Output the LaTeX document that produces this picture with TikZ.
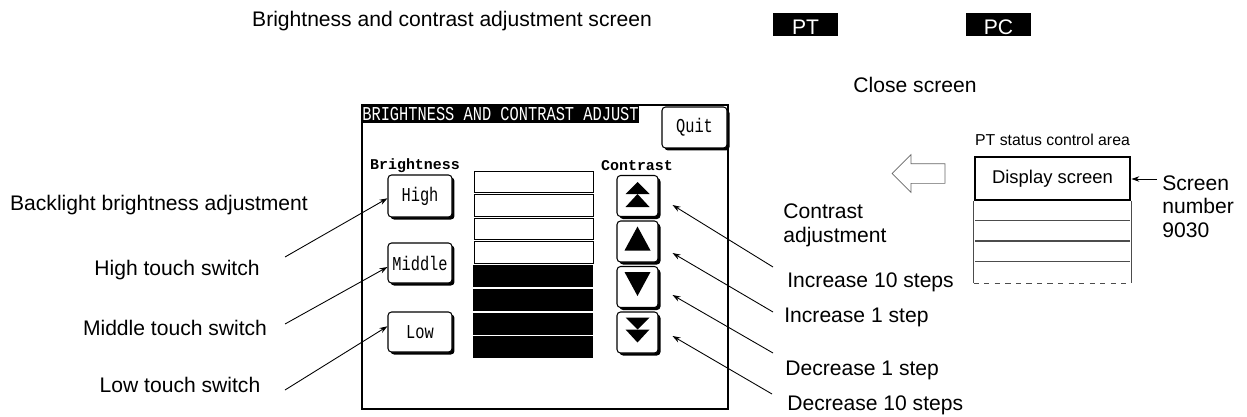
\documentclass[tikz,border=0pt]{standalone}
\usepackage{fontspec}
\usepackage{graphicx}
\setmainfont{Liberation Sans}
\newfontfamily\lcdfont{Liberation Mono}
\usetikzlibrary{arrows.meta, positioning, shapes.arrows, shadows}
\newcommand{\lcd}[1]{\scalebox{0.78}[1]{\lcdfont\fontsize{11.2}{12}\selectfont #1}}
\tikzstyle{note} = [font=\fontsize{12}{14}\selectfont, inner sep=0pt]
\tikzstyle{tag} = [fill=black, text=white, minimum width=1.3cm, minimum height=0.48cm, inner sep=0pt, text height=0.42cm, text depth=0pt, font=\fontsize{12}{14}\selectfont]
\tikzstyle{tsw} = [draw, fill=white, rounded corners=2pt, line width=0.6pt, inner sep=0pt, drop shadow={shadow xshift=0.05cm, shadow yshift=-0.05cm, opacity=1, fill=black}]
\tikzstyle{hdr} = [font=\lcdfont\bfseries\fontsize{8.5}{10}\selectfont, inner sep=0pt]
\tikzstyle{rowline} = [black!70, line width=0.6pt]
\tikzstyle{arrow} = [line width=0.5pt, -{Stealth[length=1.6mm, width=1.1mm]}]

\begin{document}
\begin{tikzpicture}[x=0.02cm, y=-0.02cm]
    \useasboundingbox (0,0) rectangle (1247,416);
    \node[note] (title) at (452,21) {Brightness and contrast adjustment screen};
    \node[tag] (pt) at (805.5,24.5) {PT};
    \node[tag] (pc) at (998.5,24.5) {PC};
    \node[note] (close) at (915,85) {Close screen};

    \draw[line width=0.6pt] (362,105) rectangle (728,409);
    \node[fill=black, text=white, anchor=north west, minimum width=5.52cm, minimum height=0.36cm, inner sep=0pt] (bar) at (362,105) {\lcd{BRIGHTNESS AND CONTRAST ADJUST}};
    \node[tsw, minimum width=1.3cm, minimum height=0.82cm] (quit) at (694.5,127.5) {\lcd{Quit}};
    \node[hdr] (bri) at (415,166) {Brightness};
    \node[hdr] (con) at (637,166) {Contrast};

    \node[tsw, minimum width=1.28cm, minimum height=0.84cm] (high) at (420,196) {\lcd{High}};
    \node[tsw, minimum width=1.28cm, minimum height=0.8cm] (mid) at (420,263) {\lcd{Middle}};
    \node[tsw, minimum width=1.28cm, minimum height=0.8cm] (low) at (420,332) {\lcd{Low}};

    \foreach \i in {0,...,3}
        \draw[line width=0.5pt, fill=white] (474,171+\i*23.6) rectangle (593,192.5+\i*23.6);
    \foreach \i in {4,...,7}
        \fill (473,171+\i*23.6) rectangle (593,193+\i*23.6);

    \foreach \n/\y in {cu10/196, cu1/241.5, cd1/287, cd10/332.5}
        \node[tsw, minimum width=0.82cm, minimum height=0.82cm] (\n) at (637.5,\y) {};
    \fill ([shift={(-12,-2)}]cu10.center) -- ++(24,0) -- ++(-12,-12) -- cycle;
    \fill ([shift={(-12,11)}]cu10.center) -- ++(24,0) -- ++(-12,-13) -- cycle;
    \fill ([shift={(-13,9)}]cu1.center) -- ++(26,0) -- ++(-13,-24) -- cycle;
    \fill ([shift={(-13,-15)}]cd1.center) -- ++(26,0) -- ++(-13,24) -- cycle;
    \fill ([shift={(-12,-15)}]cd10.center) -- ++(24,0) -- ++(-12,12) -- cycle;
    \fill ([shift={(-12,-3)}]cd10.center) -- ++(24,0) -- ++(-12,13) -- cycle;

    \node[note] (lbl) at (159,205) {Backlight brightness adjustment};
    \node[note] (hts) at (177,270) {High touch switch};
    \node[note] (mts) at (175,328) {Middle touch switch};
    \node[note] (lts) at (180,385) {Low touch switch};
    \coordinate (hsa) at (285,257);
    \coordinate (msa) at (285,324);
    \coordinate (lsa) at (285,390);
    \draw[arrow] (hsa) -- (high.184);
    \draw[arrow] (msa) -- (mid.187);
    \draw[arrow] (lsa) -- (low.170);

    \node[note, align=left, anchor=north west] (cadj) at (783,203) {Contrast\\adjustment};
    \node[note, anchor=west] (inc10) at (787,282) {Increase 10 steps};
    \node[note, anchor=west] (inc1) at (784,317) {Increase 1 step};
    \node[note, anchor=west] (dec1) at (785,370) {Decrease 1 step};
    \node[note, anchor=west] (dec10) at (787,405) {Decrease 10 steps};
    \coordinate (i10a) at (773,267);
    \coordinate (i1a) at (773,312);
    \coordinate (d1a) at (773,353);
    \coordinate (d10a) at (772,394);
    \draw[arrow] (i10a) -- ([shift={(14,9)}]cu10.east);
    \draw[arrow] (i1a) -- ([shift={(14,11.5)}]cu1.east);
    \draw[arrow] (d1a) -- ([shift={(14,8)}]cd1.east);
    \draw[arrow] (d10a) -- ([shift={(14,3.5)}]cd10.east);

    \node[draw, line width=1.6pt, minimum width=3.1cm, minimum height=0.86cm, font=\fontsize{10.5}{12}\selectfont] (disp) at (1052.5,178.5) {Display screen};
    \node[font=\fontsize{9}{10}\selectfont, inner sep=0pt, above=0.2cm of disp] (ptsa) {PT status control area};
    \foreach \i in {1,2,3}
        \draw[rowline] (975,200+\i*20.5) -- (1130,200+\i*20.5);
    \draw[rowline] (disp.south west) -- ++(0,82) (disp.south east) -- ++(0,82);
    \draw[rowline, dashed] ([yshift=-1.64cm]disp.south west) -- ([yshift=-1.64cm]disp.south east);
    \node[single arrow, draw=black!60, fill=white, shape border rotate=180, minimum height=1.06cm, text height=0.38cm, text depth=0pt, single arrow head extend=0.18cm, inner sep=0pt] (back) at (923.5,173.5) {};
    \node[note, align=left, anchor=north west, font=\fontsize{12}{13.5}\selectfont] (scrnum) at (1162,175) {Screen\\number\\9030};
    \coordinate (sna) at (1157,179);
    \draw[arrow] (sna) -- (sna -| disp.east);
\end{tikzpicture}
\end{document}
